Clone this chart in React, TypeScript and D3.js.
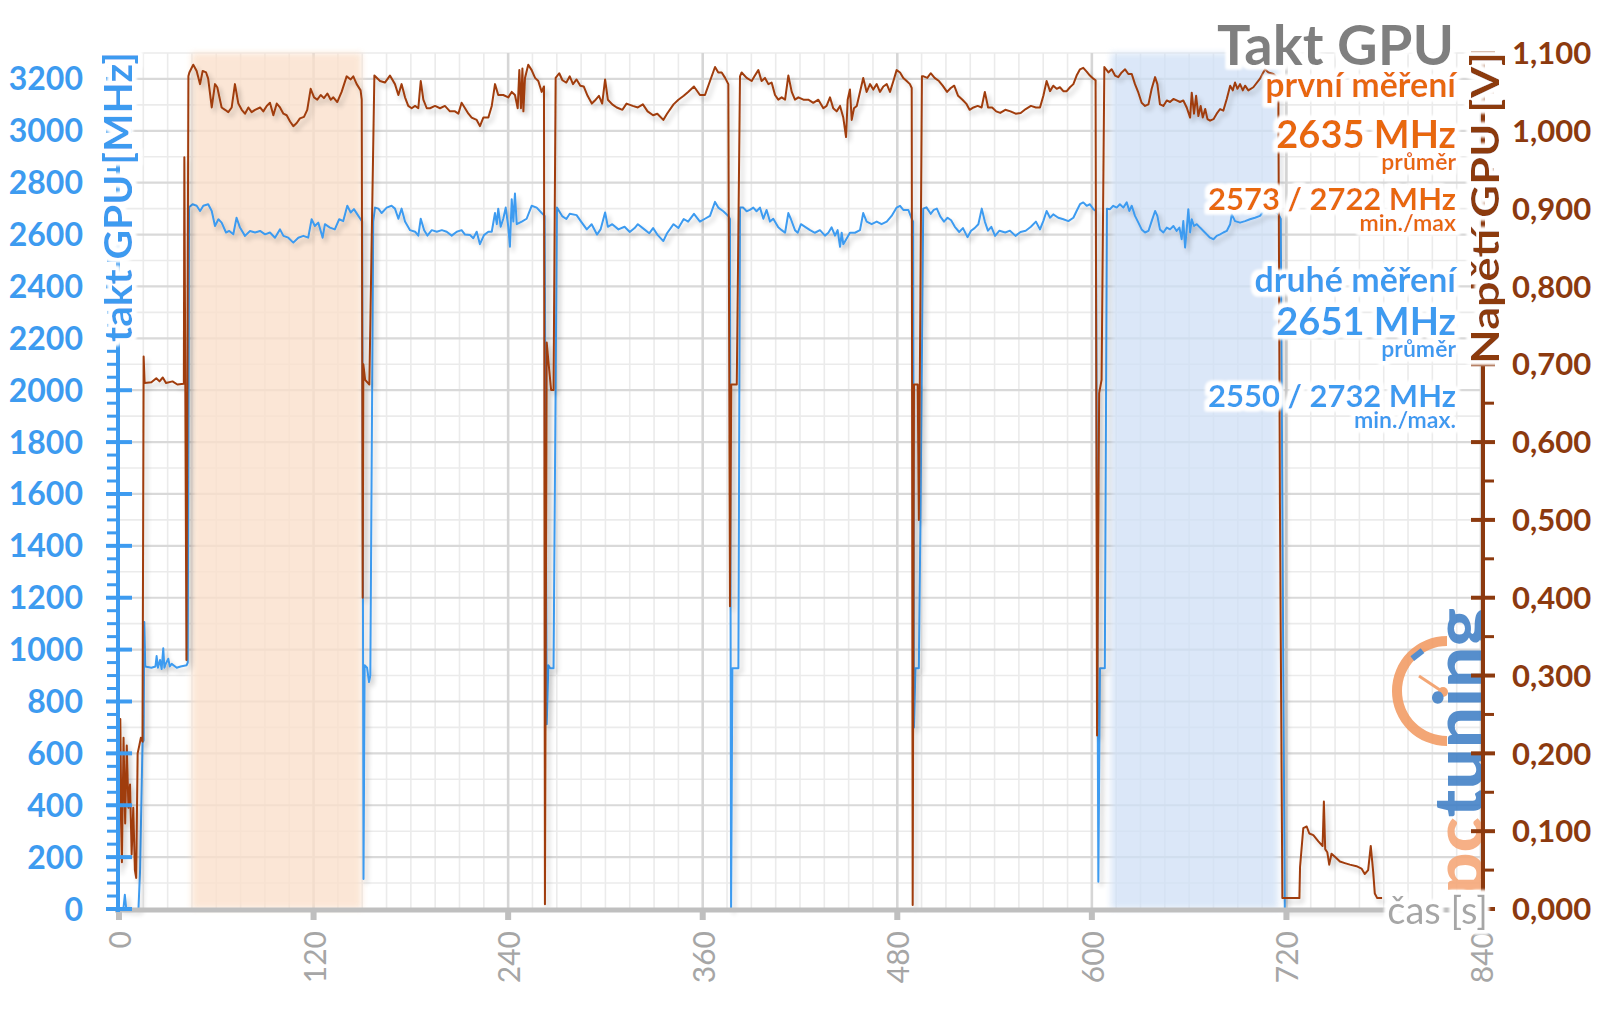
import React from 'react';
import * as d3 from 'd3';

// GPU clock [MHz] vs time [s]
const clockData: [number, number][] = [
  [0, 0], [1.5, 0], [2.8, 5], [3.6, 55], [4.4, 5], [5.5, 0], [9, 0], [12, 0], [13, 150], [14.5, 640], [15.2, 650], [15.6, 1106], [16.2, 935],
  [20, 930], [22.5, 935], [23.2, 975], [24, 930], [25.3, 960], [26.3, 925], [27.3, 1005], [28, 930], [28.8, 945], [30.4, 965], [31.3, 935], [32.5, 945], [35.6, 930], [38, 935], [41.7, 940], [42.4, 950], [43.2, 2705],
  [45.4, 2717], [47.9, 2711], [50, 2691], [52, 2711], [55, 2717], [57.2, 2691], [59.2, 2633], [61.3, 2659], [63.3, 2646], [66, 2608], [68, 2614], [70.5, 2601], [72.5, 2665], [74.6, 2627], [77.7, 2595], [80.8, 2614], [83.9, 2608], [87, 2614], [90.1, 2601], [93.1, 2608], [96.2, 2588], [99.3, 2620], [101.4, 2595], [104.4, 2588], [107.5, 2569], [110.6, 2588], [113.7, 2595], [116.7, 2588], [118.8, 2659], [120.8, 2633], [122.9, 2646], [125.6, 2588], [127, 2640], [130.1, 2627], [133.1, 2620], [135.8, 2659], [138.3, 2652], [140.8, 2711], [142.9, 2685], [144.9, 2698], [147, 2678], [149, 2659], [150, 2650],
  [150.8, 116], [151.5, 940], [153, 930], [154.2, 875], [155, 900], [156.8, 2650], [157.9, 2704],
  [160, 2700], [162, 2683], [165.1, 2704], [168.1, 2711], [170.2, 2700], [172.3, 2661], [174.3, 2700], [176.4, 2650], [179.5, 2617], [182.6, 2611], [184.6, 2596], [186.1, 2661], [188.2, 2617], [190.2, 2596], [192.9, 2617], [196, 2611], [199.1, 2617], [202.1, 2611], [205.2, 2596], [208.3, 2611], [211.3, 2617], [213.4, 2600], [216.5, 2598], [218.5, 2586], [220.6, 2611], [222.6, 2563], [225.1, 2598], [227.8, 2611], [229.9, 2611], [231.9, 2683], [233, 2640], [233.9, 2700], [235.4, 2630], [237, 2661], [238.5, 2704], [240.1, 2630], [241.1, 2553], [242.2, 2736], [243.2, 2650], [244.2, 2758], [245.3, 2640], [248.4, 2650], [251.4, 2661], [254.5, 2711], [257.6, 2704], [260.7, 2683], [262.5, 2672],
  [263.8, 712], [264.8, 940], [266, 928], [268, 928], [270.1, 2704],
  [271.5, 2690], [273.5, 2670], [275.9, 2660], [278, 2680], [282.2, 2675], [285, 2650], [288.5, 2620], [291.5, 2640], [294.8, 2600], [297, 2620], [299.8, 2685], [301.5, 2630], [304.2, 2640], [308, 2620], [311.8, 2630], [315, 2610], [318, 2625], [320, 2640], [324, 2620], [327, 2605], [329.4, 2625], [332, 2600], [335.7, 2575], [338, 2605], [342, 2640], [345, 2625], [348.3, 2660], [351, 2650], [354.6, 2680], [358.3, 2650], [361.4, 2661], [364.5, 2672], [367.6, 2726], [369.6, 2704], [372.7, 2690], [375.8, 2672], [376.8, 2660],
  [377.5, 0], [378.3, 928], [382, 928], [383, 2704],
  [385, 2704], [387.1, 2690], [389.1, 2695], [391.2, 2704], [393.2, 2690], [395.3, 2704], [397.4, 2661], [399.4, 2695], [401.5, 2650], [403.5, 2661], [406.6, 2628], [408.7, 2617], [410.8, 2607], [412.8, 2683], [414.3, 2661], [416.9, 2617], [418.6, 2607], [420.6, 2640], [423.6, 2628], [426.2, 2617], [429.2, 2607], [432.3, 2617], [435.4, 2596], [437.5, 2607], [439.5, 2628], [441.6, 2596], [443.2, 2617], [444.7, 2553], [445.7, 2607], [446.7, 2563], [448.8, 2585], [450.8, 2607], [453.9, 2607], [457, 2617], [459, 2683], [461.1, 2650], [464.2, 2640], [467.3, 2650], [470.3, 2640], [473.5, 2650], [476.5, 2672], [479.6, 2704], [481.7, 2711], [483.7, 2695], [486.8, 2695], [488.9, 2661], [489.8, 2650],
  [490.3, 700], [491.2, 928], [493.3, 928], [494.3, 1502], [496, 2700],
  [498, 2705], [500.6, 2680], [502.5, 2695], [504.4, 2700], [506.5, 2670], [508.8, 2650], [511, 2665], [513.2, 2655], [515.5, 2630], [518.2, 2610], [520.5, 2625], [523.3, 2590], [525.5, 2615], [527.7, 2625], [530, 2640], [532.1, 2700], [534, 2650], [535.9, 2615], [538, 2630], [540.3, 2595], [543, 2615], [546.6, 2608], [549.5, 2615], [552.9, 2595], [556, 2610], [559.2, 2615], [562.4, 2630], [565.5, 2650], [568, 2620], [570.1, 2653], [572.1, 2691], [574.2, 2665], [576.2, 2678], [579.3, 2665], [582.4, 2659], [585.5, 2652], [588.6, 2665], [590.6, 2691], [592.7, 2717], [594.7, 2724], [596.8, 2711], [598.8, 2717], [600.9, 2698], [602.5, 2691],
  [604, 105], [605, 928], [608, 928], [609.3, 2700],
  [611.2, 2698], [613.2, 2711], [615.3, 2704], [617.3, 2717], [619.4, 2704], [621.5, 2724], [623.1, 2691], [624.6, 2711], [626.6, 2672], [628.7, 2646], [630.7, 2620], [632.8, 2608], [634.9, 2614], [636.9, 2652], [639, 2691], [640.4, 2672], [642, 2620], [644.1, 2608], [646.2, 2627], [648.2, 2620], [650.3, 2633], [652.3, 2614], [654, 2627], [655.4, 2582], [656.4, 2652], [657.5, 2550], [658.5, 2620], [659.5, 2698], [660.6, 2608], [661.6, 2659], [663, 2633], [664.7, 2640], [666.7, 2627], [668.8, 2614], [670.8, 2601], [672.9, 2588], [675, 2582], [677, 2595], [679.1, 2601], [681.1, 2608], [683.2, 2614], [685.3, 2640], [686.3, 2678], [688.3, 2652], [691.4, 2646], [694.5, 2652], [697.5, 2659], [700.6, 2665], [703.7, 2672], [706.1, 2691], [709, 2685], [712, 2690], [715, 2680], [716.5, 2660],
  [718, 1000], [719, 0], [780, 0],
];

// GPU voltage [V] vs time [s]
const voltData: [number, number][] = [
  [0, 0.05], [0.8, 0.244], [1.8, 0.06], [2.8, 0.22], [3.8, 0.11], [4.8, 0.21], [5.8, 0.13], [6.8, 0.16], [7.8, 0.07], [8.8, 0.13], [9.8, 0.05], [10.6, 0.04], [11.5, 0.2], [12.5, 0.21], [13.5, 0.22], [14.5, 0.215], [15.2, 0.71], [15.8, 0.676],
  [20, 0.677], [23, 0.682], [25, 0.678], [27, 0.683], [29, 0.676], [33, 0.678], [36, 0.674], [40, 0.675], [40.3, 0.966], [41.6, 0.32], [42.8, 1.07],
  [43.4, 1.075], [45.8, 1.085], [47.9, 1.077], [50, 1.06], [51.6, 1.077], [53.7, 1.075], [55, 1.067], [57.2, 1.03], [59.2, 1.06], [60.6, 1.056], [63.3, 1.03], [65.4, 1.027], [67.4, 1.024], [69.5, 1.03], [71.5, 1.06], [73.6, 1.035], [75.7, 1.027], [77.7, 1.022], [79.8, 1.03], [81.8, 1.024], [83.9, 1.027], [87, 1.03], [89, 1.025], [91.1, 1.032], [93.1, 1.036], [95.2, 1.02], [97.3, 1.035], [99.3, 1.03], [101.4, 1.022], [103.4, 1.02], [105.5, 1.012], [107.5, 1.006], [109.6, 1.01], [111.6, 1.016], [114.1, 1.018], [116.1, 1.027], [118.2, 1.054], [120.3, 1.043], [122.3, 1.04], [124.4, 1.046], [126.4, 1.042], [128.5, 1.048], [130.6, 1.04], [132.2, 1.043], [134.6, 1.037], [137.3, 1.05], [140.4, 1.07], [142.9, 1.066], [144.5, 1.07], [146.6, 1.06], [149, 1.052],
  [149.7, 1.04], [150.3, 0.40], [150.7, 0.70], [151.8, 0.68], [154.4, 0.674], [157.5, 1.071],
  [161, 1.064], [164, 1.062], [167.1, 1.071], [170.2, 1.06], [172.3, 1.046], [174.3, 1.06], [176.4, 1.043], [178.4, 1.032], [180.5, 1.029], [182.6, 1.032], [184.6, 1.029], [186.1, 1.064], [187.7, 1.04], [189.8, 1.029], [191.8, 1.029], [194.9, 1.032], [198, 1.029], [201, 1.032], [204.1, 1.025], [207.2, 1.025], [209.3, 1.022], [211.3, 1.036], [213.4, 1.029], [215.5, 1.022], [217.5, 1.017], [220.6, 1.014], [222.6, 1.006], [224.7, 1.017], [227.8, 1.017], [229.9, 1.032], [231.9, 1.06], [233.9, 1.046], [237, 1.046], [240.1, 1.043], [242.2, 1.05], [244.2, 1.046], [245.9, 1.029], [246.9, 1.078], [247.9, 1.029], [248.8, 1.08], [249.4, 1.025], [250.4, 1.068], [252.4, 1.085], [254.5, 1.078], [256.6, 1.068], [258.6, 1.064], [260.7, 1.05], [262.1, 1.057],
  [262.7, 0.006], [263.8, 0.728], [265, 0.70], [266.5, 0.667], [268, 0.667], [269.3, 1.068],
  [271.5, 1.074], [273.5, 1.065], [275.9, 1.062], [278, 1.07], [280, 1.06], [282.2, 1.066], [284.5, 1.058], [286.6, 1.057], [289, 1.045], [291.6, 1.035], [294, 1.04], [296, 1.045], [298, 1.035], [299.8, 1.066], [301.5, 1.04], [304.2, 1.034], [307, 1.03], [310.5, 1.027], [313, 1.035], [316.8, 1.032], [320, 1.03], [323.1, 1.034], [326, 1.025], [329.4, 1.02], [332, 1.022], [335.7, 1.014], [338, 1.022], [342, 1.034], [345, 1.04], [348.3, 1.045], [351, 1.05], [354.6, 1.057], [358.3, 1.046], [361.4, 1.046], [364.5, 1.064], [367.6, 1.082], [369.6, 1.075], [371.7, 1.075], [373.8, 1.068], [375.8, 1.06],
  [376.8, 0.389], [377.6, 0.674], [381, 0.674], [383, 1.07],
  [384, 1.075], [387.1, 1.068], [390.2, 1.064], [392.2, 1.071], [394.3, 1.078], [396.3, 1.064], [398.4, 1.068], [400.5, 1.06], [402.5, 1.062], [404.6, 1.046], [406.6, 1.04], [408.7, 1.043], [410.8, 1.04], [412.8, 1.071], [414.9, 1.05], [416.9, 1.04], [419, 1.043], [422.1, 1.04], [425.1, 1.04], [428.2, 1.036], [431.3, 1.04], [434.4, 1.029], [436.4, 1.032], [438.5, 1.043], [440.5, 1.029], [442.6, 1.025], [444.7, 1.032], [446.7, 1.017], [448.4, 0.992], [449.4, 1.04], [450.8, 1.053], [451.9, 1.014], [453.3, 1.029], [455, 1.032], [457, 1.05], [459, 1.068], [461.1, 1.05], [463.2, 1.06], [465.2, 1.053], [467.3, 1.06], [469.3, 1.05], [471.4, 1.057], [473.5, 1.06], [475.5, 1.05], [477.6, 1.064], [479.6, 1.078], [481.7, 1.075], [483.7, 1.068], [485.8, 1.064], [487.8, 1.06], [488.9, 1.055],
  [489.5, 0.005], [490.3, 0.674], [492.6, 0.674], [493.3, 0.50], [495.2, 1.07],
  [496.2, 1.07], [498.5, 1.068], [500.6, 1.074], [503, 1.068], [505.7, 1.064], [508, 1.058], [510.7, 1.05], [513, 1.055], [515.1, 1.058], [517.5, 1.045], [520.2, 1.04], [522.5, 1.035], [524.6, 1.027], [527, 1.03], [529.6, 1.032], [532, 1.03], [534, 1.05], [536, 1.03], [538.5, 1.03], [541, 1.025], [543.5, 1.023], [546.6, 1.027], [549.8, 1.025], [553, 1.022], [556.1, 1.023], [559.2, 1.028], [562.4, 1.032], [565.5, 1.03], [568, 1.03], [570.1, 1.045], [572.1, 1.064], [574.2, 1.051], [576.2, 1.058], [578.3, 1.054], [580.3, 1.056], [582.4, 1.051], [584.5, 1.051], [586.5, 1.056], [588.6, 1.06], [590.6, 1.071], [592.7, 1.079], [594.7, 1.081], [596.8, 1.076], [598.8, 1.071], [600.9, 1.067], [602.3, 1.065],
  [603.2, 0.223], [604.5, 0.663], [606, 0.68], [607.7, 1.082],
  [610.2, 1.075], [612.2, 1.079], [614.3, 1.071], [616.3, 1.069], [618.4, 1.075], [620.5, 1.079], [622.5, 1.073], [624.6, 1.073], [626.6, 1.06], [628.7, 1.049], [630.7, 1.036], [632.8, 1.032], [634.9, 1.034], [636.9, 1.054], [639, 1.069], [640.4, 1.06], [642, 1.034], [644.1, 1.032], [646.2, 1.039], [648.2, 1.037], [650.3, 1.041], [652.3, 1.039], [654.4, 1.037], [656.4, 1.039], [658.5, 1.03], [660.6, 1.017], [661.6, 1.049], [663, 1.022], [664.3, 1.045], [665.7, 1.019], [667.1, 1.032], [668.4, 1.017], [669.9, 1.028], [671.3, 1.015], [672.9, 1.013], [675, 1.015], [677, 1.022], [679.1, 1.028], [681.1, 1.026], [683.2, 1.041], [685.3, 1.058], [686.9, 1.052], [688.3, 1.062], [689.8, 1.054], [691.4, 1.06], [693.1, 1.052], [694.5, 1.058], [696.5, 1.052], [699.6, 1.056], [703.7, 1.067], [706.8, 1.079], [708.9, 1.075], [712, 1.073], [714, 1.069],
  [715, 1.06], [716, 0.52], [717.5, 0.014],
  [721, 0.014], [728, 0.014], [728.4, 0.054], [730.4, 0.104], [732.5, 0.106], [734.1, 0.097], [736.6, 0.095], [739.7, 0.087], [742.3, 0.081], [743.1, 0.138], [743.9, 0.077], [745.2, 0.073], [746.4, 0.057], [747.8, 0.071], [749.9, 0.067], [753, 0.061], [756, 0.059], [759.1, 0.057], [763.2, 0.055], [766.3, 0.052], [768.3, 0.045], [770.4, 0.05], [772, 0.081], [773.5, 0.048], [774.5, 0.02], [776, 0.014], [779, 0.014],
];

const firstRunWindow: [number, number] = [44.8, 149.7];
const secondRunWindow: [number, number] = [611.8, 714.8];

const timeTicks = [0, 120, 240, 360, 480, 600, 720, 840];
const clockTicks = [0, 200, 400, 600, 800, 1000, 1200, 1400, 1600, 1800, 2000, 2200, 2400, 2600, 2800, 3000, 3200];
const voltTicks = [0, 0.1, 0.2, 0.3, 0.4, 0.5, 0.6, 0.7, 0.8, 0.9, 1.0, 1.1];

const titleText = 'Takt GPU';
const firstLegend = ['první měření', '2635 MHz', 'průměr', '2573 / 2722 MHz', 'min./max'];
const secondLegend = ['druhé měření', '2651 MHz', 'průměr', '2550 / 2732 MHz', 'min./max.'];

const BLUE = '#3d9bf0';
const BROWN = '#a03c0c';
const BROWN_AXIS = '#8c3a0f';
const ORANGE = '#e8680e';
const GRAY_TXT = '#a6a6a6';
const FONT = 'Lato, "Open Sans", sans-serif';

type Label = { text: string; transform?: string; x?: number; y?: number; anchor: string; size: number; weight: number; color: string; textLength?: number; baseline?: string };

export default function App() {
  const W = 1600, H = 1009;
  const x = d3.scaleLinear().domain([0, 840]).range([119, 1481]);
  const yL = d3.scaleLinear().domain([0, 3300]).range([909, 53]);
  const yR = d3.scaleLinear().domain([0, 1.1]).range([909, 53]);

  const clockLine = d3.line<[number, number]>().x(d => x(d[0])).y(d => yL(d[1]));
  const voltLine = d3.line<[number, number]>().x(d => x(d[0])).y(d => yR(d[1]));

  const minorH = d3.range(100, 3301, 100).filter(v => v % 200 !== 0);
  const majorH = d3.range(200, 3201, 200);
  const minorV = d3.range(15, 840, 15).filter(v => v % 120 !== 0);
  const majorV = d3.range(120, 841, 120);
  const clockMinor = d3.range(50, 3300, 50).filter(v => v % 200 !== 0);
  const voltMinor = d3.range(0.05, 1.1, 0.1);
  const fmtV = (v: number) => d3.format('.3f')(v).replace('.', ',');

  const arc = d3.arc()({ innerRadius: 45, outerRadius: 55, startAngle: Math.PI, endAngle: 2 * Math.PI } as any) as string;

  const legendY1 = [97, 148, 170, 210, 231];
  const legendY2 = [292, 335, 357, 407, 428];
  const legendSize = [34, 38, 23, 31, 23];

  const overlay: Label[] = [
    { text: titleText, x: 1454, y: 65, anchor: 'end', size: 56, weight: 700, color: '#7f7f7f' },
    ...firstLegend.map((t, i) => ({ text: t, x: 1456, y: legendY1[i], anchor: 'end', size: legendSize[i], weight: 700, color: ORANGE })),
    ...secondLegend.map((t, i) => ({ text: t, x: 1456, y: legendY2[i], anchor: 'end', size: legendSize[i], weight: 700, color: BLUE })),
    { text: 'takt GPU [MHz]', transform: 'translate(117,197) rotate(-90)', anchor: 'middle', size: 38, weight: 700, color: BLUE, textLength: 290, baseline: 'central' },
    { text: 'Napětí GPU [V]', transform: 'translate(1484,208) rotate(-90)', anchor: 'middle', size: 38, weight: 700, color: BROWN_AXIS, textLength: 312, baseline: 'central' },
    { text: 'čas [s]', x: 1488, y: 924, anchor: 'end', size: 38, weight: 400, color: GRAY_TXT },
  ];

  return (
    <svg width={W} height={H} style={{ position: 'absolute', left: 0, top: 0, background: '#fff' }}>
      <defs>
        <filter id="halo" x="-3%" y="-5%" width="106%" height="110%">
          <feMorphology in="SourceAlpha" operator="dilate" radius="3.5" result="d" />
          <feGaussianBlur in="d" stdDeviation="1.6" result="b" />
          <feFlood floodColor="#ffffff" result="f" />
          <feComposite in="f" in2="b" operator="in" result="w" />
          <feMerge><feMergeNode in="w" /><feMergeNode in="w" /><feMergeNode in="SourceGraphic" /></feMerge>
        </filter>
        <filter id="shadow" x="-5%" y="-5%" width="110%" height="110%">
          <feGaussianBlur in="SourceAlpha" stdDeviation="2.5" />
          <feOffset dx="3" dy="4" result="o" />
          <feComponentTransfer><feFuncA type="linear" slope="0.22" /></feComponentTransfer>
          <feMerge><feMergeNode /><feMergeNode in="SourceGraphic" /></feMerge>
        </filter>
        <filter id="soft" x="-10%" y="-2%" width="120%" height="104%">
          <feGaussianBlur stdDeviation="3" />
        </filter>
        <clipPath id="logoClip">
          <rect x={1380} y={590} width={103} height={330} />
        </clipPath>
      </defs>
      <rect x={0} y={0} width={W} height={H} fill="#fff" />

      {/* grid */}
      <g>
        {minorH.map(v => <line key={'mh' + v} x1={119} x2={1481} y1={yL(v)} y2={yL(v)} stroke="#ebebeb" strokeWidth={1.6} />)}
        {minorV.map(v => <line key={'mv' + v} x1={x(v)} x2={x(v)} y1={53} y2={909} stroke="#ebebeb" strokeWidth={1.6} />)}
        {majorH.map(v => <line key={'MH' + v} x1={119} x2={1481} y1={yL(v)} y2={yL(v)} stroke="#d9d9d9" strokeWidth={2.2} />)}
        {majorV.map(v => <line key={'MV' + v} x1={x(v)} x2={x(v)} y1={53} y2={909} stroke="#d6d6d6" strokeWidth={2.6} />)}
      </g>

      {/* shaded windows */}
      <rect x={x(firstRunWindow[0])} y={53} width={x(firstRunWindow[1]) - x(firstRunWindow[0])} height={856}
        fill="rgb(251,224,203)" opacity={0.78} filter="url(#soft)" />
      <rect x={x(secondRunWindow[0])} y={53} width={x(secondRunWindow[1]) - x(secondRunWindow[0])} height={856}
        fill="rgb(207,224,246)" opacity={0.75} filter="url(#soft)" />

      {/* logo */}
      <g opacity={0.88}>
        <path d={arc} transform="translate(1447,691)" fill="#f29a62" />
        <rect x={1411} y={652} width={13} height={6} fill="#3d7fc8" transform="rotate(-38 1417 655)" />
        <line x1={1443} y1={692} x2={1419} y2={676} stroke="#f29a62" strokeWidth={3} />
        <circle cx={1443} cy={692} r={5} fill="#f29a62" />
        <g clipPath="url(#logoClip)">
          <text transform="translate(1483,894) rotate(-90)" fontFamily={FONT} fontWeight={900} fontSize={68}
            textLength={286} lengthAdjust="spacingAndGlyphs">
            <tspan fill="#f5a676">pc</tspan><tspan fill="#3f7fc6">tuning</tspan>
          </text>
        </g>
      </g>

      {/* series */}
      <path d={clockLine(clockData) as string} fill="none" stroke={BLUE} strokeWidth={2} strokeLinejoin="round" filter="url(#shadow)" />
      <path d={voltLine(voltData) as string} fill="none" stroke={BROWN} strokeWidth={2} strokeLinejoin="round" filter="url(#shadow)" />

      {/* bottom axis */}
      <line x1={115} x2={1481} y1={910} y2={910} stroke="#bfbfbf" strokeWidth={5} />
      {timeTicks.map(t => <rect key={'tt' + t} x={x(t) - 3} y={910} width={6} height={10} fill="#bfbfbf" />)}
      {timeTicks.map(t => (
        <text key={'tl' + t} transform={`translate(${x(t)},931) rotate(-90)`} textAnchor="end" dominantBaseline="central"
          fontSize={30} fontFamily={FONT} fill={GRAY_TXT}>{t}</text>
      ))}

      {/* left axis */}
      <line x1={118} x2={118} y1={53} y2={912} stroke={BLUE} strokeWidth={4} />
      {clockMinor.map(v => <line key={'cm' + v} x1={107} x2={119} y1={yL(v)} y2={yL(v)} stroke={BLUE} strokeWidth={3} />)}
      {clockTicks.map(v => <line key={'ct' + v} x1={106} x2={132} y1={yL(v)} y2={yL(v)} stroke={BLUE} strokeWidth={4} />)}
      {clockTicks.map(v => (
        <text key={'cl' + v} x={83} y={yL(v)} dy="0.36em" textAnchor="end" fontSize={32} fontWeight={700}
          fontFamily={FONT} fill={BLUE}>{v}</text>
      ))}

      {/* right axis */}
      <line x1={1483} x2={1483} y1={53} y2={912} stroke={BROWN_AXIS} strokeWidth={4} />
      {voltMinor.map(v => <line key={'vm' + v} x1={1483} x2={1494} y1={yR(v)} y2={yR(v)} stroke={BROWN_AXIS} strokeWidth={3} />)}
      {voltTicks.map(v => <line key={'vt' + v} x1={1471} x2={1495} y1={yR(v)} y2={yR(v)} stroke={BROWN_AXIS} strokeWidth={4} />)}
      {voltTicks.map(v => (
        <text key={'vl' + v} x={1512} y={yR(v)} dy="0.36em" textAnchor="start" fontSize={31} fontWeight={700}
          fontFamily={FONT} fill={BROWN_AXIS}>{fmtV(v)}</text>
      ))}

      {/* overlay texts with a shared white glow underneath */}
      <g filter="url(#halo)">
        {overlay.map((l, i) => (
          <text key={'o' + i} x={l.x} y={l.y} transform={l.transform} textAnchor={l.anchor as any}
            dominantBaseline={l.baseline as any} fontSize={l.size} fontWeight={l.weight} fontFamily={FONT}
            fill={l.color} textLength={l.textLength} lengthAdjust={l.textLength ? 'spacingAndGlyphs' : undefined}>{l.text}</text>
        ))}
      </g>
    </svg>
  );
}
